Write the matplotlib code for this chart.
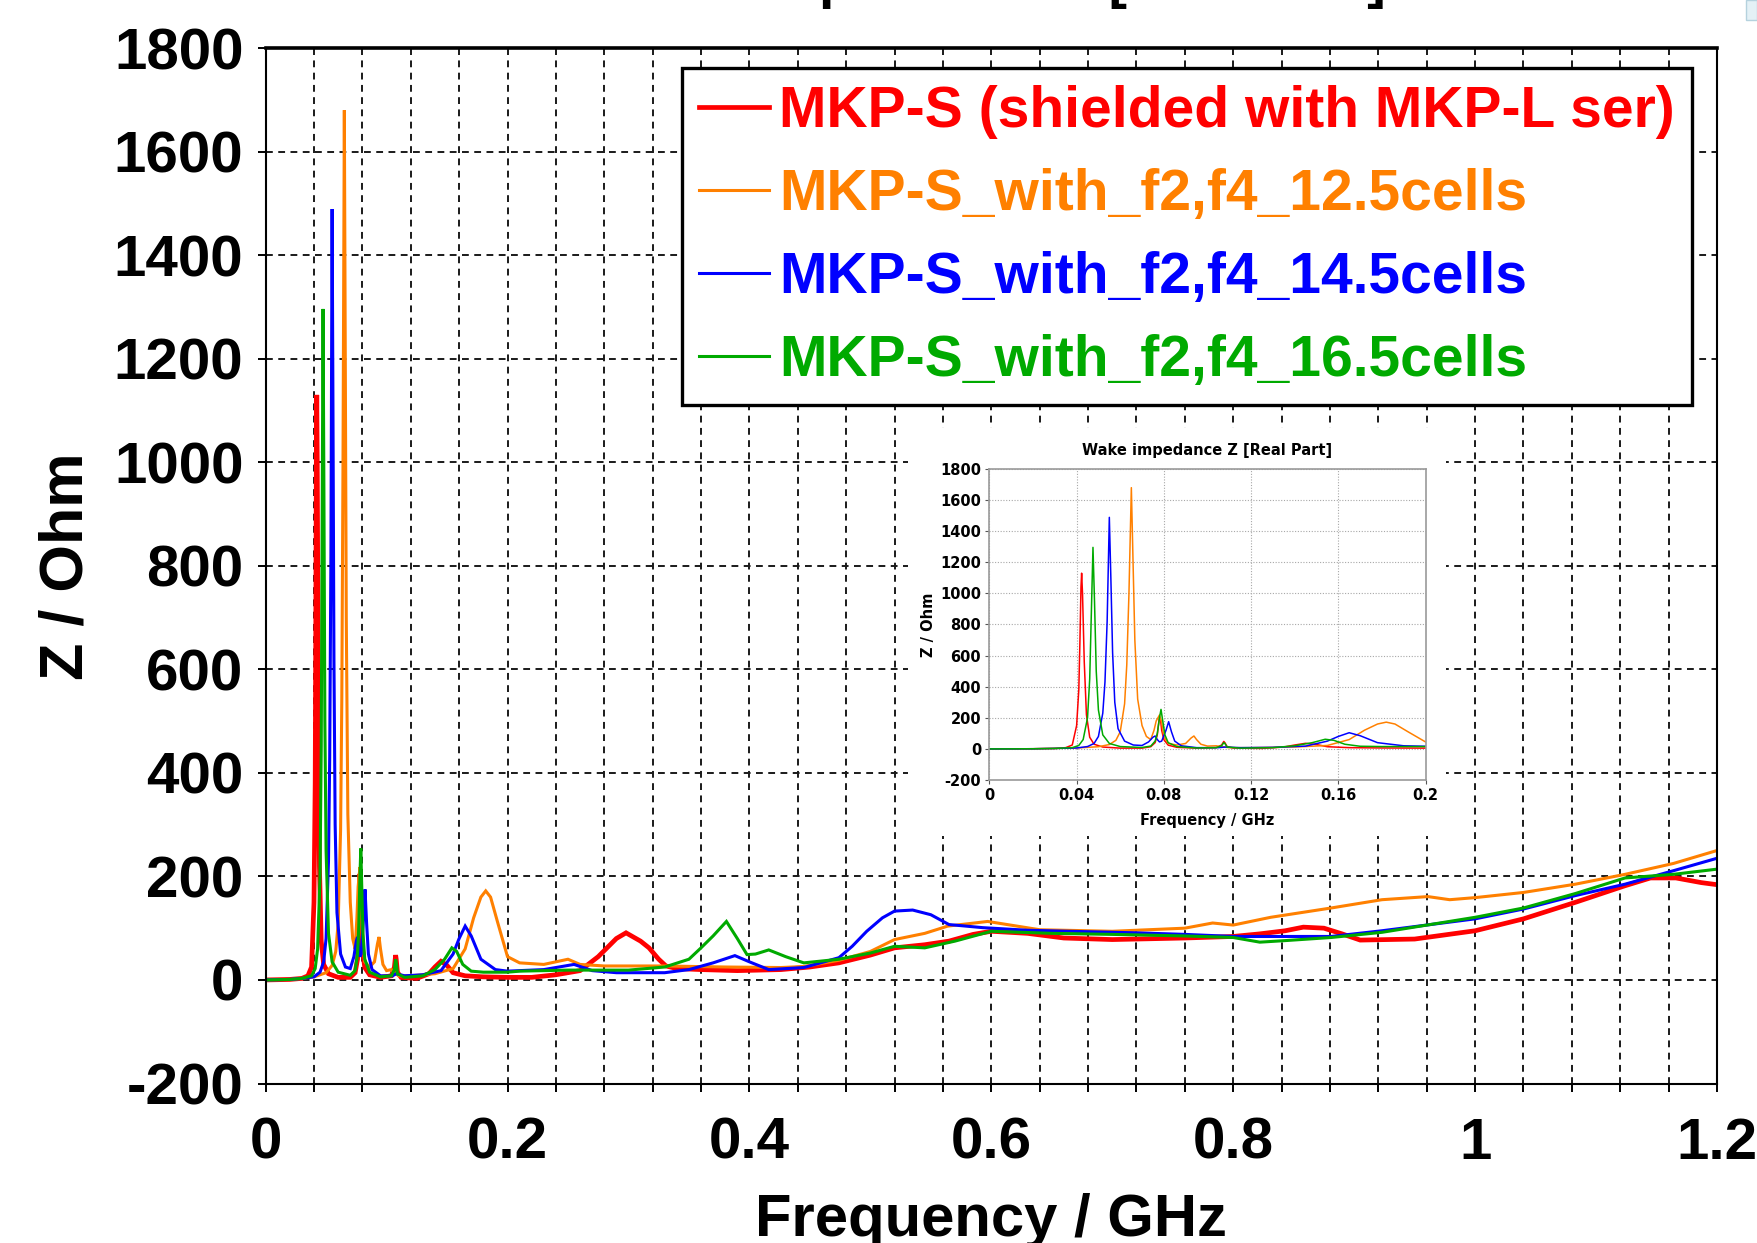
import matplotlib
matplotlib.use("Agg")
import matplotlib.pyplot as plt
from matplotlib.patches import Rectangle
from matplotlib.ticker import MultipleLocator

# ---------------- data ----------------
series_labels = ["MKP-S (shielded with MKP-L ser)",
                 "MKP-S_with_f2,f4_12.5cells",
                 "MKP-S_with_f2,f4_14.5cells",
                 "MKP-S_with_f2,f4_16.5cells"]
series_colors = ["#ff0000", "#ff8000", "#0000ff", "#00aa00"]

red_f = [0, 0.02, 0.03, 0.035, 0.038, 0.040, 0.041, 0.0415, 0.042, 0.0423, 0.0427, 0.0435, 0.0445,
         0.046, 0.048, 0.052, 0.060, 0.070, 0.074, 0.076, 0.077, 0.0775, 0.078, 0.0785, 0.079, 0.080,
         0.082, 0.086, 0.095, 0.104, 0.1065, 0.1075, 0.108, 0.109, 0.112, 0.125, 0.135, 0.140, 0.145,
         0.150, 0.155, 0.165, 0.18, 0.2, 0.22, 0.24, 0.26, 0.275, 0.29, 0.298, 0.31, 0.317, 0.325,
         0.331, 0.34, 0.36, 0.39, 0.426, 0.45, 0.474, 0.5, 0.52, 0.545, 0.565, 0.585, 0.6, 0.63, 0.66,
         0.7, 0.76, 0.8, 0.822, 0.843, 0.858, 0.875, 0.89, 0.905, 0.95, 1.0, 1.04, 1.083, 1.124,
         1.145, 1.166, 1.187, 1.2]
red_z = [0, 1, 3, 8, 25, 150, 380, 680, 1040, 1130, 1000, 560, 220,
         75, 30, 12, 5, 5, 14, 40, 90, 150, 205, 185, 120, 60,
         24, 10, 5, 8, 25, 48, 40, 15, 5, 3, 12, 25, 36,
         28, 14, 8, 6, 5, 5, 10, 18, 45, 80, 91, 75, 62, 40,
         27, 22, 20, 18, 20, 25, 33, 48, 62, 68, 75, 88, 94, 90, 81,
         78, 81, 84, 89, 95, 102, 100, 89, 77, 79, 95, 118, 150, 182,
         197, 197, 188, 184]

orange_f = [0, 0.02, 0.03, 0.04, 0.05, 0.055, 0.058, 0.060, 0.062, 0.063, 0.064, 0.0651, 0.0658,
            0.0667, 0.068, 0.070, 0.072, 0.074, 0.0755, 0.0765, 0.078, 0.079, 0.080, 0.082, 0.086,
            0.090, 0.0925, 0.0938, 0.095, 0.097, 0.100, 0.104, 0.106, 0.110, 0.120, 0.140, 0.155,
            0.165, 0.172, 0.178, 0.182, 0.186, 0.192, 0.2, 0.21, 0.23, 0.25, 0.26, 0.28, 0.33, 0.38,
            0.426, 0.445, 0.474, 0.5, 0.52, 0.545, 0.564, 0.597, 0.64, 0.7, 0.76, 0.783, 0.8, 0.831,
            0.881, 0.923, 0.961, 0.979, 1.0, 1.04, 1.083, 1.124, 1.164, 1.2]
orange_z = [0, 1, 3, 6, 14, 28, 55, 110, 290, 540, 1000, 1680, 1250,
            700, 320, 150, 80, 60, 120, 180, 218, 170, 80, 35, 25,
            35, 70, 83, 60, 30, 18, 20, 15, 8, 8, 12, 22,
            60, 120, 160, 172, 160, 110, 45, 33, 30, 40, 30, 27, 27, 25,
            24, 26, 38, 55, 78, 90, 104, 113, 97, 94, 100, 110, 106, 121,
            139, 155, 161, 155, 159, 169, 185, 204, 225, 250]

blue_f = [0, 0.02, 0.03, 0.04, 0.045, 0.048, 0.050, 0.052, 0.053, 0.054, 0.055, 0.0557, 0.0565,
          0.0575, 0.059, 0.062, 0.066, 0.070, 0.073, 0.075, 0.076, 0.077, 0.078, 0.079, 0.081,
          0.0822, 0.0835, 0.085, 0.088, 0.095, 0.105, 0.108, 0.115, 0.13, 0.145, 0.155, 0.16, 0.165,
          0.17, 0.178, 0.19, 0.2, 0.23, 0.255, 0.27, 0.29, 0.33, 0.35, 0.37, 0.388, 0.4, 0.416,
          0.445, 0.474, 0.485, 0.497, 0.51, 0.52, 0.535, 0.55, 0.565, 0.593, 0.63, 0.664, 0.72,
          0.76, 0.8, 0.881, 0.923, 1.0, 1.04, 1.083, 1.124, 1.164, 1.2]
blue_z = [0, 1, 3, 6, 15, 35, 80, 230, 430, 820, 1489, 1100, 620,
          300, 130, 50, 25, 22, 45, 75, 83, 60, 45, 50, 120,
          175, 110, 50, 20, 8, 8, 12, 8, 10, 18, 50, 80, 104,
          85, 40, 20, 17, 20, 30, 18, 14, 14, 20, 33, 47, 35, 20,
          24, 43, 65, 94, 120, 133, 135, 126, 107, 101, 96, 94, 91,
          88, 84, 84, 95, 118, 137, 163, 185, 211, 235]

green_f = [0, 0.02, 0.03, 0.038, 0.041, 0.043, 0.045, 0.046, 0.0468, 0.0475, 0.0482, 0.049, 0.050,
           0.052, 0.055, 0.060, 0.070, 0.074, 0.076, 0.077, 0.078, 0.0787, 0.0795, 0.0805, 0.082,
           0.086, 0.095, 0.104, 0.1065, 0.1075, 0.108, 0.109, 0.115, 0.13, 0.14, 0.148, 0.154, 0.158,
           0.163, 0.17, 0.18, 0.2, 0.21, 0.25, 0.3, 0.33, 0.35, 0.36, 0.37, 0.381, 0.39, 0.398,
           0.405, 0.416, 0.43, 0.445, 0.474, 0.5, 0.52, 0.545, 0.57, 0.6, 0.65, 0.7, 0.76, 0.8,
           0.822, 0.843, 0.881, 0.923, 1.0, 1.04, 1.083, 1.124, 1.164, 1.2]
green_z = [0, 1, 3, 8, 22, 60, 200, 450, 900, 1296, 950, 500, 250,
           90, 35, 15, 9, 18, 50, 100, 200, 254, 180, 90, 40,
           15, 6, 8, 20, 40, 35, 12, 5, 8, 20, 40, 62, 55,
           30, 17, 15, 15, 17, 19, 19, 25, 40, 62, 85, 113, 80, 49,
           50, 58, 45, 33, 40, 52, 65, 62, 75, 94, 90, 88, 85, 82,
           73, 76, 82, 92, 121, 139, 167, 197, 204, 214]

series_f = [red_f, orange_f, blue_f, green_f]
series_z = [red_z, orange_z, blue_z, green_z]
main_widths = [3.4, 2.2, 2.2, 2.2]

x_ticks = [0, 0.2, 0.4, 0.6, 0.8, 1.0, 1.2]
x_ticklabels = ["0", "0.2", "0.4", "0.6", "0.8", "1", "1.2"]
y_ticks = [-200, 0, 200, 400, 600, 800, 1000, 1200, 1400, 1600, 1800]
y_ticklabels = ["-200", "0", "200", "400", "600", "800", "1000", "1200", "1400", "1600", "1800"]
inset_x_ticks = [0, 0.04, 0.08, 0.12, 0.16, 0.2]
inset_x_ticklabels = ["0", "0.04", "0.08", "0.12", "0.16", "0.2"]

# ---------------- figure ----------------
W, H = 1757, 1243
plt.rcParams["font.family"] = ["Liberation Sans", "DejaVu Sans"]
plt.rcParams["font.weight"] = "bold"
fig = plt.figure(figsize=(W / 100, H / 100), dpi=100)

def fx(px):
    return px / W

def fy(py):
    return 1 - py / H

ax_l, ax_r, ax_t, ax_b = 265.6, 1717.0, 48.0, 1083.5
ax = fig.add_axes([fx(ax_l), fy(ax_b), (ax_r - ax_l) / W, (ax_b - ax_t) / H])

for f, z, c, lw, lab in zip(series_f, series_z, series_colors, main_widths, series_labels):
    ax.plot(f, z, color=c, lw=lw, label=lab, solid_joinstyle="miter")

ax.set_xlim(0, 1.2)
ax.set_ylim(-200, 1800)
ax.set_xticks(x_ticks)
ax.set_xticklabels(x_ticklabels)
ax.xaxis.set_minor_locator(MultipleLocator(0.04))
ax.set_yticks(y_ticks)
ax.set_yticklabels(y_ticklabels)

grid_style = dict(color="#1a1a1a", lw=1.4, linestyle=(0, (3.5, 2.8)))
ax.grid(True, which="both", axis="x", **grid_style)
ax.grid(True, which="major", axis="y", **grid_style)

ax.tick_params(axis="both", which="both", direction="out", length=6, width=1.4, color="black")
ax.tick_params(axis="x", which="major", labelsize=42, pad=18)
ax.tick_params(axis="y", which="major", labelsize=42, pad=10)
for lab in ax.get_xticklabels() + ax.get_yticklabels():
    lab.set_fontweight("bold")

for s in ax.spines.values():
    s.set_linewidth(1.5)
    s.set_color("black")
ax.spines["top"].set_linewidth(2.6)

ax.set_xlabel("Frequency / GHz", fontsize=43, fontweight="bold")
ax.xaxis.label.set_va("baseline")
ax.xaxis.set_label_coords(0.5, -(1236 - ax_b) / (ax_b - ax_t))
ax.set_ylabel("Z / Ohm", fontsize=44, fontweight="bold")
ax.yaxis.label.set_va("baseline")
ax.yaxis.set_label_coords(-(ax_l - 83) / (ax_r - ax_l), 0.5)

# partially visible title at the very top
fig.text(fx((ax_l + ax_r) / 2), 1 + 3 / H, "Wake impedance Z [Real Part]",
         ha="center", va="baseline", fontsize=40, fontweight="bold")

# legend
leg = ax.legend(loc="upper left", bbox_to_anchor=(fx(682), fy(68)), bbox_transform=fig.transFigure,
                borderaxespad=0, prop=dict(size=41, weight="bold"), labelcolor="linecolor",
                fancybox=False, framealpha=1, edgecolor="black", handlelength=1.22,
                handletextpad=0.19, labelspacing=0.51, borderpad=0.3)
leg.get_frame().set_linewidth(2.4)
leg.set_zorder(6)

# white backdrop behind the inset picture
ax.add_patch(Rectangle((fx(908), fy(836)), 538 / W, 408 / H, transform=fig.transFigure,
                       facecolor="white", edgecolor="none", zorder=1.8, clip_on=False))

# ---------------- inset ----------------
in_l, in_r, in_t, in_b = 989.4, 1425.5, 469.0, 780.0
ins = fig.add_axes([fx(in_l), fy(in_b), (in_r - in_l) / W, (in_b - in_t) / H], zorder=3)
ins.set_facecolor("white")
for f, z, c in zip(series_f, series_z, series_colors):
    ins.plot(f, z, color=c, lw=1.1)
ins.set_xlim(0, 0.2)
ins.set_ylim(-200, 1800)
ins.set_xticks(inset_x_ticks)
ins.set_xticklabels(inset_x_ticklabels)
ins.set_yticks(y_ticks)
ins.set_yticklabels(y_ticklabels)
ins.grid(True, color="#a8a8a8", lw=0.8, linestyle=(0, (1, 1.5)))
ins.tick_params(direction="out", length=3, width=0.8, color="#555555", labelsize=10.5, pad=3)
ins_font = ["DejaVu Sans"]
for lab in ins.get_xticklabels() + ins.get_yticklabels():
    lab.set_fontfamily(ins_font)
    lab.set_fontweight("bold")
for s in ins.spines.values():
    s.set_color("#9a9a9a")
    s.set_linewidth(1.2)
ins.set_title("Wake impedance Z [Real Part]", fontsize=10.5, fontweight="bold",
              family=ins_font, pad=10)
ins.set_xlabel("Frequency / GHz", fontsize=10.5, fontweight="bold", family=ins_font)
ins.xaxis.label.set_va("baseline")
ins.xaxis.set_label_coords(0.5, -(825 - in_b) / (in_b - in_t))
ins.set_ylabel("Z / Ohm", fontsize=10.5, fontweight="bold", family=ins_font)
ins.yaxis.label.set_va("baseline")
ins.yaxis.set_label_coords(-(in_l - 933) / (in_r - in_l), 0.5)

# small window-edge sliver at the top right corner
fig.add_artist(Rectangle((fx(1746), fy(20)), 11 / W, 20 / H, transform=fig.transFigure,
                         facecolor="#e4f1f6", edgecolor="#b5d2de", lw=1))

fig.savefig("out.png", dpi=100)
